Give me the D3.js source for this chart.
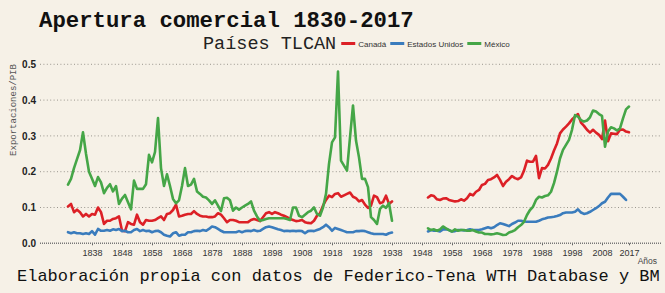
<!DOCTYPE html>
<html>
<head>
<meta charset="utf-8">
<script src="https://cdn.jsdelivr.net/npm/d3@7"></script>
<style>
  html, body { margin: 0; padding: 0; background: #F6F1E7; }
  svg { display: block; }
  .mono { font-family: "Liberation Mono", "DejaVu Sans Mono", monospace; }
  .sans { font-family: "Liberation Sans", Arial, sans-serif; }
</style>
</head>
<body>
<svg id="chart" width="665" height="293"></svg>
<script>
// Apertura comercial: exportaciones / PIB, Canadá, EE.UU. y México
const yearsEarly = d3.range(1830, 1939);
const yearsLate = d3.range(1950, 2018);

const canadaEarly = [
  0.103, 0.11, 0.087, 0.094, 0.087, 0.075, 0.082, 0.075, 0.082, 0.08,
  0.1, 0.087, 0.054, 0.063, 0.063, 0.068, 0.07, 0.075, 0.035, 0.034,
  0.059, 0.054, 0.052, 0.08, 0.059, 0.052, 0.065, 0.063, 0.063, 0.065,
  0.07, 0.075, 0.065, 0.082, 0.084, 0.093, 0.108, 0.075, 0.077, 0.08,
  0.082, 0.082, 0.09, 0.082, 0.077, 0.075, 0.075, 0.073, 0.073, 0.075,
  0.084, 0.08, 0.07, 0.059, 0.065, 0.065, 0.063, 0.059, 0.059, 0.059,
  0.059, 0.065, 0.068, 0.065, 0.062, 0.073, 0.084, 0.087, 0.082, 0.087,
  0.084, 0.08, 0.077, 0.073, 0.068, 0.065, 0.062, 0.063, 0.065, 0.059,
  0.057, 0.056, 0.063, 0.077, 0.084, 0.105, 0.121, 0.133, 0.129, 0.138,
  0.14, 0.13, 0.134, 0.138, 0.142, 0.13, 0.126, 0.117, 0.121, 0.108,
  0.099, 0.105, 0.133, 0.129, 0.112, 0.115, 0.133, 0.11, 0.117
];
const usEarly = [
  0.031, 0.028, 0.031, 0.028, 0.028, 0.026, 0.028, 0.026, 0.034, 0.024,
  0.04, 0.035, 0.035, 0.037, 0.035, 0.039, 0.037, 0.04, 0.034, 0.035,
  0.031, 0.031, 0.037, 0.04, 0.034, 0.037, 0.034, 0.035, 0.031, 0.034,
  0.035, 0.031, 0.024, 0.021, 0.019, 0.028, 0.031, 0.021, 0.024, 0.024,
  0.031, 0.031, 0.034, 0.035, 0.034, 0.037, 0.035, 0.04, 0.047, 0.045,
  0.04, 0.035, 0.031, 0.031, 0.031, 0.031, 0.031, 0.034, 0.031, 0.034,
  0.035, 0.034, 0.037, 0.034, 0.035, 0.04, 0.045, 0.047, 0.045, 0.042,
  0.039, 0.037, 0.034, 0.035, 0.034, 0.035, 0.034, 0.035, 0.034, 0.028,
  0.034, 0.035, 0.034, 0.037, 0.04, 0.045, 0.052, 0.045, 0.035, 0.043,
  0.04, 0.037, 0.034, 0.031, 0.031, 0.031, 0.034, 0.034, 0.035, 0.034,
  0.031, 0.028, 0.026, 0.026, 0.026, 0.026, 0.024, 0.028, 0.03
];
const mexicoEarly = [
  0.164, 0.18, 0.21, 0.235, 0.26, 0.31, 0.25, 0.2, 0.18, 0.16,
  0.185, 0.17, 0.14, 0.155, 0.165, 0.145, 0.16, 0.11, 0.125, 0.135,
  0.115, 0.095, 0.175, 0.152, 0.152, 0.152, 0.165, 0.247, 0.226, 0.255,
  0.35, 0.21, 0.16, 0.193, 0.16, 0.124, 0.112, 0.12, 0.16, 0.21,
  0.16, 0.164, 0.18, 0.145, 0.138, 0.13, 0.128, 0.12, 0.11, 0.12,
  0.105, 0.09, 0.126, 0.127, 0.12, 0.091, 0.1, 0.094, 0.1, 0.105,
  0.11, 0.117, 0.091, 0.075, 0.063, 0.065, 0.068, 0.07, 0.07, 0.07,
  0.07, 0.07, 0.07, 0.068, 0.065, 0.1, 0.1, 0.077, 0.073, 0.08,
  0.087, 0.091, 0.1, 0.082, 0.077, 0.1, 0.138, 0.222, 0.282, 0.296,
  0.48, 0.231, 0.217, 0.203, 0.296, 0.385, 0.287, 0.24, 0.18, 0.18,
  0.157, 0.073, 0.065, 0.054, 0.096, 0.105, 0.099, 0.112, 0.063
];

const canadaLate = [
  0.128, 0.134, 0.132, 0.123, 0.121, 0.125, 0.126, 0.121, 0.119, 0.117,
  0.118, 0.123, 0.119, 0.126, 0.138, 0.134, 0.144, 0.149, 0.163, 0.166,
  0.177, 0.179, 0.184, 0.191, 0.177, 0.16, 0.172, 0.179, 0.188, 0.182,
  0.179, 0.184, 0.203, 0.231, 0.228, 0.228, 0.244, 0.182, 0.21, 0.209,
  0.219, 0.237, 0.259, 0.279, 0.307, 0.318, 0.326, 0.335, 0.346, 0.354,
  0.361, 0.337, 0.328, 0.317, 0.309, 0.317, 0.309, 0.303, 0.291, 0.343,
  0.285, 0.307, 0.306, 0.305, 0.317, 0.318, 0.312, 0.31
];
const usLate = [
  0.033, 0.037, 0.035, 0.035, 0.033, 0.039, 0.039, 0.037, 0.033, 0.034,
  0.037, 0.037, 0.036, 0.037, 0.039, 0.037, 0.037, 0.037, 0.039, 0.042,
  0.045, 0.042, 0.045, 0.051, 0.056, 0.054, 0.051, 0.048, 0.054, 0.058,
  0.063, 0.063, 0.061, 0.06, 0.06, 0.06, 0.06, 0.063, 0.067, 0.069,
  0.072, 0.073, 0.074, 0.076, 0.079, 0.084, 0.086, 0.086, 0.086, 0.088,
  0.095, 0.086, 0.082, 0.084, 0.088, 0.093, 0.098, 0.104, 0.112, 0.116,
  0.128, 0.138, 0.138, 0.138, 0.138, 0.13, 0.121, null
];
const mexicoLate = [
  0.042, 0.037, 0.039, 0.035, 0.039, 0.047, 0.042, 0.037, 0.033, 0.039,
  0.035, 0.037, 0.037, 0.035, 0.035, 0.037, 0.033, 0.03, 0.03, 0.026,
  0.026, 0.025, 0.026, 0.028, 0.026, 0.023, 0.024, 0.03, 0.033, 0.037,
  0.045, 0.051, 0.06, 0.079, 0.093, 0.102, 0.121, 0.13, 0.128, 0.132,
  0.134, 0.144, 0.168, 0.2, 0.237, 0.261, 0.275, 0.289, 0.317, 0.358,
  0.354, 0.344, 0.34, 0.343, 0.352, 0.371, 0.368, 0.361, 0.356, 0.27,
  0.312, 0.324, 0.321, 0.315, 0.321, 0.349, 0.374, 0.382
];

const xTicks = [1838, 1848, 1858, 1868, 1878, 1888, 1898, 1908, 1918, 1928, 1938, 1948, 1958, 1968, 1978, 1988, 1998, 2008, 2017];
const yTicks = [0, 0.1, 0.2, 0.3, 0.4, 0.5];

const seriesNames = ['Canadá', 'Estados Unidos', 'México'];
const COLORS = { 'Canadá': '#DC2026', 'Estados Unidos': '#3A7CBD', 'México': '#45A647' };

const series = [
  { name: 'Canadá', early: canadaEarly, late: canadaLate },
  { name: 'Estados Unidos', early: usEarly, late: usLate },
  { name: 'México', early: mexicoEarly, late: mexicoLate }
];

const W = 665, H = 293;
const svg = d3.select('#chart');
svg.append('rect').attr('width', W).attr('height', H).attr('fill', '#F6F1E7');

const x = d3.scaleLinear().domain([1822, 2028]).range([44, 662]);
const y = d3.scaleLinear().domain([0, 0.5]).range([243.3, 64.3]);

// --- rejilla punteada ---
svg.append('g').selectAll('line')
  .data(yTicks.filter(d => d > 0))
  .join('line')
  .attr('x1', 40).attr('x2', 661)
  .attr('y1', d => y(d)).attr('y2', d => y(d))
  .attr('stroke', '#9a968e').attr('stroke-width', 1)
  .attr('stroke-dasharray', '1,2.4');

// --- eje X ---
const xAxis = svg.append('g').attr('transform', `translate(0,${y(0)})`)
  .call(d3.axisBottom(x).tickValues(xTicks).tickFormat(d3.format('d')).tickSize(2).tickPadding(4));
xAxis.select('.domain').remove();
xAxis.selectAll('.tick line').attr('stroke', '#666');
xAxis.selectAll('text').attr('class', 'sans').style('font-size', '9px').attr('fill', '#333');
svg.append('line')
  .attr('x1', 40).attr('x2', 661).attr('y1', y(0)).attr('y2', y(0))
  .attr('stroke', '#777').attr('stroke-width', 1.6).attr('stroke-dasharray', '1,1');

// --- eje Y ---
const yAxis = svg.append('g').attr('transform', 'translate(37,0)')
  .call(d3.axisLeft(y).tickValues(yTicks).tickFormat(d3.format('.1f')).tickSize(0).tickPadding(1));
yAxis.select('.domain').remove();
yAxis.selectAll('text').attr('class', 'sans').style('font-size', '10px')
  .style('font-weight', 'bold').attr('fill', '#222');

svg.append('text').attr('class', 'mono')
  .attr('transform', 'translate(16,110) rotate(-90)')
  .attr('text-anchor', 'middle')
  .style('font-size', '9px').attr('fill', '#555')
  .text('Exportaciones/PIB');

svg.append('text').attr('class', 'sans')
  .attr('x', 657).attr('y', 263.5).attr('text-anchor', 'end')
  .style('font-size', '8.5px').attr('fill', '#444')
  .text('Años');

// --- líneas ---
const lineGen = years => d3.line()
  .defined(d => d !== null)
  .x((d, i) => x(years[i]))
  .y(d => y(d));

const lines = svg.append('g').attr('fill', 'none').attr('stroke-width', 2.6)
  .attr('stroke-linejoin', 'round').attr('stroke-linecap', 'round');
series.forEach(s => {
  lines.append('path').attr('d', lineGen(yearsEarly)(s.early)).attr('stroke', COLORS[s.name]);
  lines.append('path').attr('d', lineGen(yearsLate)(s.late)).attr('stroke', COLORS[s.name]);
});

// --- títulos ---
svg.append('text').attr('class', 'mono')
  .attr('x', 39).attr('y', 27)
  .style('font-size', '22.3px').style('font-weight', 'bold').attr('fill', '#111')
  .text('Apertura comercial 1830-2017');

const sub = svg.append('text').attr('class', 'mono')
  .attr('x', 203).attr('y', 49)
  .style('font-size', '18.5px').attr('fill', '#222')
  .text('Países TLCAN');

// --- leyenda ---
let lx = 203 + sub.node().getComputedTextLength() + 5;
seriesNames.forEach(name => {
  svg.append('line')
    .attr('x1', lx).attr('x2', lx + 14).attr('y1', 43.5).attr('y2', 43.5)
    .attr('stroke', COLORS[name]).attr('stroke-width', 3);
  const t = svg.append('text').attr('class', 'sans')
    .attr('x', lx + 17).attr('y', 46.5)
    .style('font-size', '8px').attr('fill', '#333')
    .text(name);
  lx += 17 + t.node().getComputedTextLength() + 4;
});

svg.append('text').attr('class', 'mono')
  .attr('x', 17).attr('y', 280.5)
  .style('font-size', '17px').attr('fill', '#111')
  .text('Elaboración propia con datos de Federico-Tena WTH Database y BM');
</script>
</body>
</html>
